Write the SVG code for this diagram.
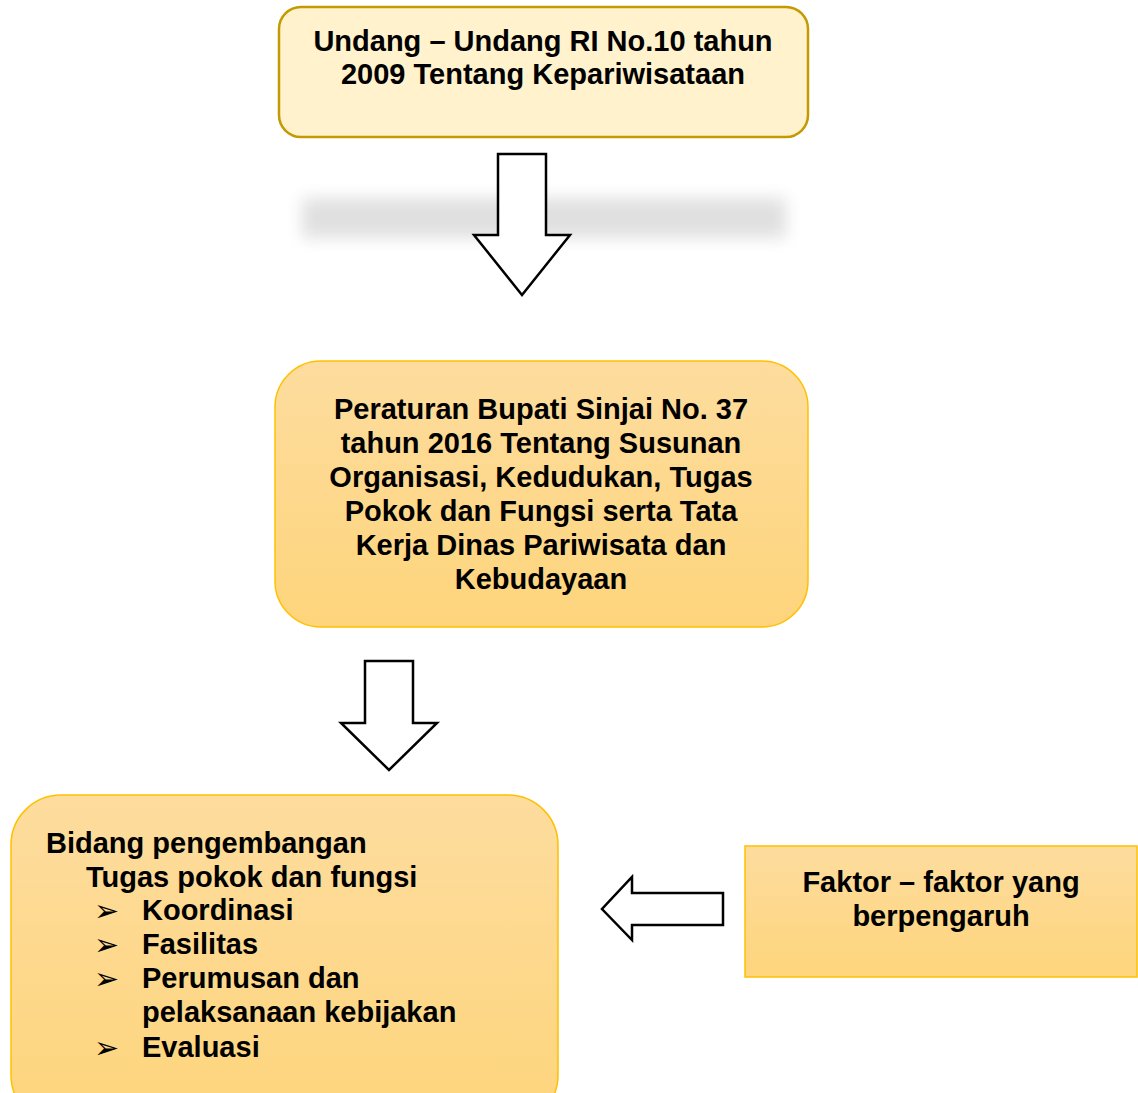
<svg xmlns="http://www.w3.org/2000/svg" width="1138" height="1093" viewBox="0 0 1138 1093">
<style>
.t{font-family:"Liberation Sans",Arial,sans-serif;font-weight:bold;font-size:29px;fill:#000}
.c{text-anchor:middle}
.b{font-family:"DejaVu Sans",sans-serif;font-size:30px;fill:#000}
.arrow{fill:#fff;stroke:#000;stroke-width:2.5;stroke-linejoin:miter}
</style>
<defs>
<linearGradient id="g1" x1="0" y1="0" x2="0" y2="1">
<stop offset="0" stop-color="#fddc9e"/>
<stop offset="1" stop-color="#fed57c"/>
</linearGradient>
<filter id="blur" x="-20%" y="-200%" width="140%" height="500%">
<feGaussianBlur stdDeviation="8"/>
</filter>
</defs>
<rect width="1138" height="1093" fill="#fff"/>
<g id="shadow">
<rect x="302" y="198" width="484" height="40" fill="#e0e0e0" filter="url(#blur)"/>
</g>
<g id="node1">
<rect x="279" y="7" width="529" height="130" rx="22" fill="#fff2cc" stroke="#c49a00" stroke-width="2.5"/>
<text class="t c" x="543" y="51">Undang – Undang RI No.10 tahun</text>
<text class="t c" x="543" y="84">2009 Tentang Kepariwisataan</text>
</g>
<g id="node2">
<rect x="275" y="361" width="533" height="266" rx="46" fill="url(#g1)" stroke="#ffc000" stroke-width="1.5"/>
<text class="t c" x="541" y="419">Peraturan Bupati Sinjai No. 37</text>
<text class="t c" x="541" y="453">tahun 2016 Tentang Susunan</text>
<text class="t c" x="541" y="487">Organisasi, Kedudukan, Tugas</text>
<text class="t c" x="541" y="521">Pokok dan Fungsi serta Tata</text>
<text class="t c" x="541" y="555">Kerja Dinas Pariwisata dan</text>
<text class="t c" x="541" y="589">Kebudayaan</text>
</g>
<g id="node3">
<rect x="11" y="795" width="547" height="330" rx="50" fill="url(#g1)" stroke="#ffc000" stroke-width="1.5"/>
<text class="t" x="46" y="853">Bidang pengembangan</text>
<text class="t" x="86" y="887">Tugas pokok dan fungsi</text>
<text class="b" x="94" y="921">➢</text>
<text class="t" x="142" y="920">Koordinasi</text>
<text class="b" x="94" y="955">➢</text>
<text class="t" x="142" y="954">Fasilitas</text>
<text class="b" x="94" y="989">➢</text>
<text class="t" x="142" y="988">Perumusan dan</text>
<text class="t" x="142" y="1022">pelaksanaan kebijakan</text>
<text class="b" x="94" y="1058">➢</text>
<text class="t" x="142" y="1057">Evaluasi</text>
</g>
<g id="node4">
<rect x="745" y="846" width="392" height="131" fill="url(#g1)" stroke="#ffc000" stroke-width="1.5"/>
<text class="t c" x="941" y="892">Faktor – faktor yang</text>
<text class="t c" x="941" y="926">berpengaruh</text>
</g>
<g id="connectors">
<polygon class="arrow" points="498,154 546,154 546,235 570,235 522,295 474,235 498,235"/>
<polygon class="arrow" points="365,661 413,661 413,723 437,723 389,770 341,723 365,723"/>
<polygon class="arrow" points="723,893 723,925 632,925 632,940 602,909 632,877 632,893"/>
</g>
</svg>
